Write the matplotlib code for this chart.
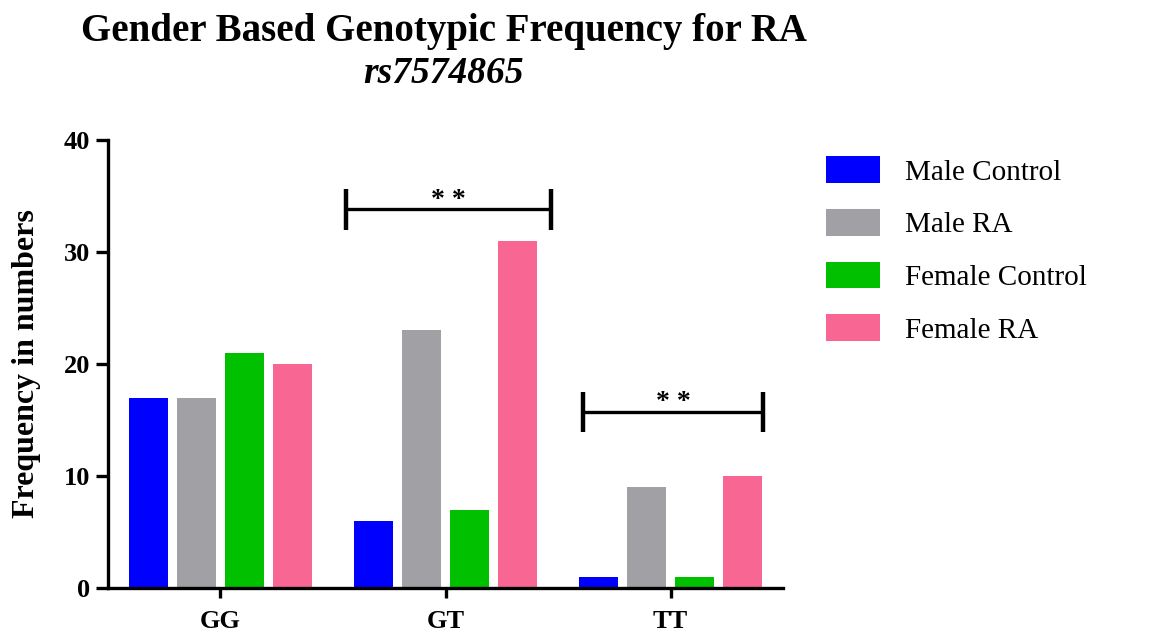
import matplotlib
matplotlib.use("Agg")
import matplotlib.pyplot as plt
import numpy as np

plt.rcParams['font.family'] = ['Liberation Serif', 'DejaVu Serif']

genotypes = ["GG", "GT", "TT"]
groups = ["Male Control", "Male RA", "Female Control", "Female RA"]
colors = ["#0000FF", "#A1A0A5", "#00C000", "#F86794"]

male_control = [17, 6, 1]
male_ra = [17, 23, 9]
female_control = [21, 7, 1]
female_ra = [20, 31, 10]
series = [male_control, male_ra, female_control, female_ra]

# significance brackets: genotype index, left/right reach, height, label
sig_groups = [1, 2]
sig_left = [0.442, 0.388]
sig_right = [0.469, 0.410]
sig_height = [33.8, 15.7]
sig_label = ["* *", "* *"]

fig = plt.figure(figsize=(11.5, 6.41), dpi=100)
ax = fig.add_axes([0.0939, 0.0827, 0.587, 0.699])

x = np.arange(len(genotypes))
pitch = 0.214
width = 0.174
for i, vals in enumerate(series):
    ax.bar(x + (i - 1.5) * pitch, vals, width=width, color=colors[i], label=groups[i], zorder=2)

for g, l, r, h, lab in zip(sig_groups, sig_left, sig_right, sig_height, sig_label):
    ax.plot([g - l, g + r], [h, h], color="black", lw=2.4, solid_capstyle="butt", clip_on=False)
    for xe in (g - l, g + r):
        ax.plot([xe, xe], [h - 1.8, h + 1.8], color="black", lw=3.2, solid_capstyle="butt", clip_on=False)
    ax.text(g + (r - l) / 2, h - 0.3, lab, ha="center", va="bottom", fontsize=20, fontweight="bold")

ax.set_xlim(-0.5, 2.5)
ax.set_ylim(0, 40)
ax.set_yticks([0, 10, 20, 30, 40])
ax.set_xticks(x)
ax.set_xticklabels(genotypes)

for s in ["top", "right"]:
    ax.spines[s].set_visible(False)
for s in ["left", "bottom"]:
    ax.spines[s].set_linewidth(2.4)
ax.tick_params(axis="y", direction="out", length=9, width=2.4, pad=4, labelsize=19)
ax.tick_params(axis="x", direction="out", length=7, width=2.4, pad=9, labelsize=19)
for lbl in ax.get_xticklabels() + ax.get_yticklabels():
    lbl.set_fontweight("bold")

ax.set_ylabel("Frequency in numbers", fontsize=23, fontweight="bold", labelpad=16)

fig.text(0.386, 0.951, "Gender Based Genotypic Frequency for RA", ha="center", va="center",
         fontsize=28, fontweight="bold")
fig.text(0.386, 0.886, "rs7574865", ha="center", va="center",
         fontsize=27, fontweight="bold", style="italic")

ax.legend(loc="upper left", bbox_to_anchor=(0.718, 0.756), bbox_transform=fig.transFigure,
          frameon=False, fontsize=21, handlelength=1.86, handleheight=1.03,
          labelspacing=0.8, handletextpad=0.86, borderpad=0, borderaxespad=0)

fig.savefig("out.png", dpi=100)
